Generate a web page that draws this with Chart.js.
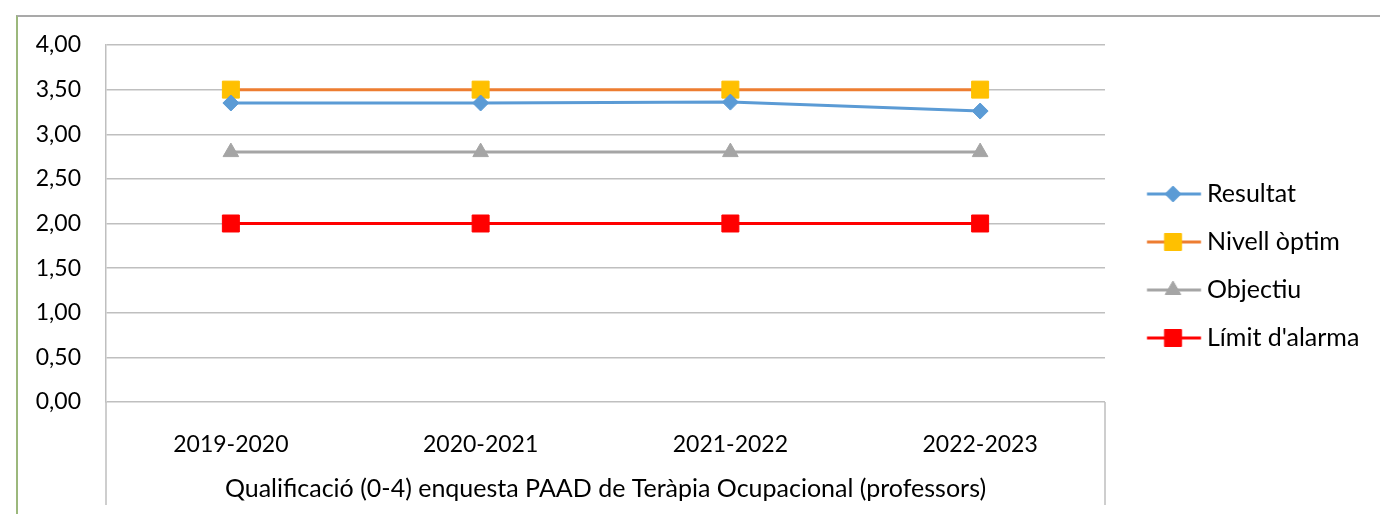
<!DOCTYPE html>
<html>
<head>
<meta charset="utf-8">
<script src="https://cdn.jsdelivr.net/npm/chart.js@4/dist/chart.umd.min.js"></script>
<style>
    html, body { margin: 0; padding: 0; background: #fff; }
    #wrap { position: relative; width: 1380px; height: 514px; }
    #frame { position: absolute; left: 16px; top: 15px; right: 0; bottom: 0; border-top: 2px solid #a9a9a9; border-left: 2px solid #9cb87c; }
    canvas { position: absolute; left: 0; top: 0; }
</style>
</head>
<body>
<div id="wrap">
    <div id="frame"></div>
    <canvas id="qualChart" width="1380" height="514"></canvas>
</div>
<script>
const years = ['2019-2020', '2020-2021', '2021-2022', '2022-2023'];
const resultat = [3.35, 3.35, 3.36, 3.26];
const nivellOptim = [3.5, 3.5, 3.5, 3.5];
const objectiu = [2.8, 2.8, 2.8, 2.8];
const limitAlarma = [2, 2, 2, 2];
const seriesNames = ['Resultat', 'Nivell òptim', 'Objectiu', "Límit d'alarma"];
const axisTitle = 'Qualificació (0-4) enquesta PAAD de Teràpia Ocupacional (professors)';

const FONT = 'Lato';
const FS_TICK = 23;
const FS_TEXT = 25;
const gridGrey = '#bfbfbf';

// legend icon: short line with the marker in the middle
function makeIcon(lineColor, markerColor, style, radius) {
    const c = document.createElement('canvas');
    c.width = 100; c.height = 30;
    const g = c.getContext('2d');
    g.strokeStyle = lineColor;
    g.lineWidth = 3;
    g.beginPath(); g.moveTo(35.75, 15); g.lineTo(89.75, 15); g.stroke();
    g.fillStyle = markerColor;
    g.strokeStyle = markerColor;
    g.lineWidth = 1;
    Chart.helpers.drawPoint(g, { pointStyle: style, radius: radius, rotation: 0, borderWidth: 1 }, 61.75, 15);
    return c;
}

const styles = [
    { line: '#5b9bd5', marker: '#5b9bd5', shape: 'rectRot', r: 8 },
    { line: '#ed7d31', marker: '#ffc000', shape: 'rect', r: 12 },
    { line: '#a5a5a5', marker: '#a5a5a5', shape: 'triangle', r: 9 },
    { line: '#ff0000', marker: '#ff0000', shape: 'rect', r: 12 }
];
const icons = styles.map(s => makeIcon(s.line, s.marker, s.shape, s.r));

const values = [resultat, nivellOptim, objectiu, limitAlarma];
const datasets = values.map((v, i) => ({
    label: seriesNames[i],
    data: v,
    borderColor: styles[i].line,
    borderWidth: 3,
    backgroundColor: styles[i].marker,
    pointBackgroundColor: styles[i].marker,
    pointBorderColor: styles[i].marker,
    pointBorderWidth: 1,
    pointStyle: styles[i].shape,
    pointRadius: styles[i].r,
    tension: 0
}));

const edgeLines = {
    id: 'edgeLines',
    afterInit(chart) {
        const lg = chart.legend;
        const fit = lg.fit;
        lg.fit = function () { fit.call(this); this.width = 275; };
    },
    afterDraw(chart) {
        const { ctx, chartArea } = chart;
        ctx.save();
        ctx.strokeStyle = gridGrey;
        ctx.lineWidth = 1.5;
        ctx.beginPath();
        ctx.moveTo(chartArea.left, chartArea.bottom); ctx.lineTo(chartArea.left, 505);
        ctx.moveTo(chartArea.right, chartArea.bottom); ctx.lineTo(chartArea.right, 505);
        ctx.stroke();
        ctx.restore();
    }
};

const ctx = document.getElementById('qualChart').getContext('2d');
const myChart = new Chart(ctx, {
    type: 'line',
    data: { labels: years, datasets: datasets },
    plugins: [edgeLines],
    options: {
        responsive: false,
        animation: false,
        layout: { padding: { top: 45, bottom: 27, left: 0, right: 0 } },
        plugins: {
            tooltip: { enabled: false },
            legend: {
                position: 'right',
                labels: {
                    usePointStyle: true,
                    pointStyleWidth: 66.5,
                    padding: 23,
                    color: '#000',
                    font: { family: FONT, size: FS_TEXT },
                    generateLabels(chart) {
                        const items = Chart.defaults.plugins.legend.labels.generateLabels(chart);
                        items.forEach((it, i) => { it.pointStyle = icons[i]; });
                        return items;
                    }
                }
            }
        },
        scales: {
            x: {
                offset: true,
                grid: { display: false },
                border: { display: false },
                ticks: { color: '#000', padding: 21, font: { family: FONT, size: FS_TICK } },
                title: {
                    display: true,
                    text: axisTitle,
                    color: '#000',
                    padding: { top: 0, bottom: -17 },
                    font: { family: FONT, size: FS_TEXT }
                },
                afterFit(scale) { scale.height = 85; }
            },
            y: {
                min: 0,
                max: 4,
                grid: { color: gridGrey, lineWidth: 1.5, drawTicks: false },
                border: { color: gridGrey, width: 1.5 },
                ticks: {
                    stepSize: 0.5,
                    padding: 25,
                    color: '#000',
                    font: { family: FONT, size: FS_TICK },
                    callback: v => v.toFixed(2).replace('.', ',')
                },
                afterFit(scale) { scale.width = 106; }
            }
        }
    }
});
</script>
</body>
</html>
